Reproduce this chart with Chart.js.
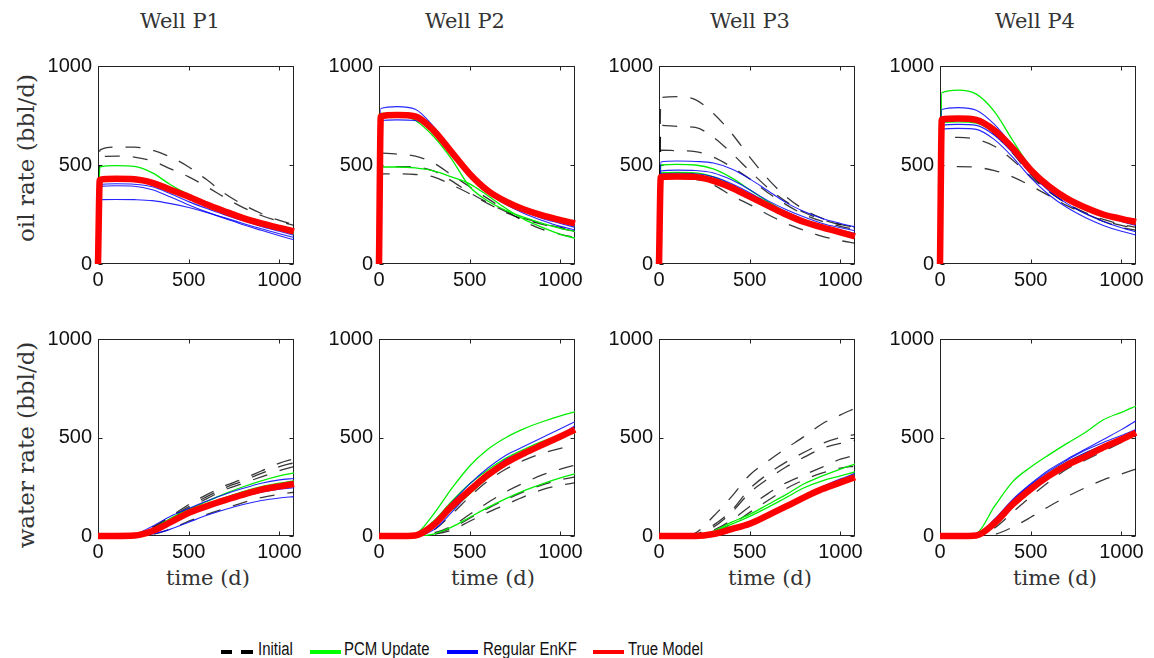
<!DOCTYPE html>
<html><head><meta charset="utf-8">
<script src="https://cdn.jsdelivr.net/npm/chart.js@4.4.0/dist/chart.umd.min.js"></script>
<style>
html,body{margin:0;padding:0;background:#fff;}
#wrap{position:relative;width:1154px;height:658px;overflow:hidden;background:#fff;}
canvas{position:absolute;}
.serif{position:absolute;font-family:'DejaVu Serif',serif;color:#333;white-space:nowrap;line-height:1;}
.title{font-size:21px;transform:translateX(-50%);}
.ylab{font-size:23px;transform:translate(-50%,-50%) rotate(-90deg);}
.xlab{font-size:21px;transform:translateX(-50%);}
.lg{position:absolute;font-family:'Liberation Sans',Arial,sans-serif;font-size:18px;line-height:1;color:#111;transform:scaleX(0.83);transform-origin:left top;white-space:nowrap;top:640px;}
.sw{position:absolute;height:4px;top:650px;}
</style></head><body><div id="wrap"></div>
<script>
// ---------- data ----------
const wellNames = ['Well P1', 'Well P2', 'Well P3', 'Well P4'];
const xTicks = [0, 500, 1000];
const yTicks = [0, 500, 1000];
const timeOil = [0, 10, 100, 200, 300, 400, 500, 600, 700, 800, 900, 1000, 1080];
const timeWater = [0, 100, 200, 300, 400, 500, 600, 700, 800, 900, 1000, 1080];

// Well P1 oil rate
const p1OilTrue = [0,425,430,428,410,375,340,300,265,232,205,182,165];
const p1OilPCM = [[0,490,497,493,460,400,350,305,265,230,200,175,150],[0,428,432,430,412,377,342,302,266,233,205,180,160]];
const p1OilEnKF = [[0,400,405,403,390,355,315,280,248,218,190,165,145],[0,392,395,393,375,338,298,262,230,198,170,143,122],[0,325,326,325,320,305,285,260,233,205,178,153,134]];
const p1OilInitial = [[0,575,590,590,575,540,490,425,355,300,255,220,200],[0,540,545,540,520,480,440,390,335,285,245,215,195],[0,430,435,432,415,380,345,305,268,236,208,185,170]];
// Well P2 oil rate
const p2OilTrue = [0,745,752,745,675,565,455,370,315,275,245,222,205];
const p2OilPCM = [[0,760,755,725,645,530,390,318,270,235,205,180,165],[0,490,490,485,470,440,405,345,280,225,185,150,130],[0,750,755,748,688,580,468,383,325,280,245,215,190]];
const p2OilEnKF = [[0,785,795,782,695,580,455,370,310,265,230,205,185],[0,725,728,725,668,560,448,360,300,255,220,190,172],[0,740,745,740,680,572,458,375,315,270,238,212,195]];
const p2OilInitial = [[0,560,555,545,510,450,390,330,270,215,175,150,135],[0,490,492,490,470,420,360,310,265,230,205,185,170],[0,455,455,452,440,400,355,305,260,225,200,180,165]];
// Well P3 oil rate
const p3OilTrue = [0,440,442,440,420,385,340,295,250,212,185,160,140];
const p3OilPCM = [[0,500,503,500,480,435,375,315,262,220,190,165,148],[0,460,462,460,440,400,350,302,255,215,188,163,145]];
const p3OilEnKF = [[0,515,520,518,510,480,430,370,310,265,230,205,188],[0,470,474,472,460,425,375,320,275,237,205,183,168],[0,455,458,456,440,405,360,310,265,225,195,172,155]];
const p3OilInitial = [[0,840,845,830,760,660,540,430,340,275,230,200,185],[0,700,695,690,640,560,470,385,315,260,225,198,182],[0,575,572,568,540,490,430,360,300,250,215,190,175],[0,430,432,428,400,345,300,250,205,170,140,118,105]];
// Well P4 oil rate
const p4OilTrue = [0,730,735,728,675,585,475,392,330,285,250,228,212];
const p4OilPCM = [[0,865,878,858,770,625,488,398,335,290,255,230,215],[0,715,718,712,662,575,470,387,325,280,245,220,205]];
const p4OilEnKF = [[0,780,790,777,705,595,480,395,335,285,245,215,195],[0,680,685,680,628,540,435,350,285,235,195,165,147],[0,700,705,700,650,562,455,370,305,255,215,183,163]];
const p4OilInitial = [[0,640,640,630,595,525,440,365,305,255,215,185,170],[0,490,492,488,472,440,395,345,295,255,220,195,180],[0,720,722,715,655,560,450,368,305,260,225,200,185]];

// Well P1 water rate
const p1WaterTrue = [0,0,2,25,70,118,152,182,210,235,252,264];
const p1WaterPCM = [[0,0,3,35,90,135,175,215,250,280,305,320],[0,0,2,28,75,122,160,195,225,250,268,280]];
const p1WaterEnKF = [[0,0,8,50,100,140,178,212,242,268,285,292],[0,0,0,10,35,70,105,135,160,180,193,200],[0,0,3,25,65,110,145,175,200,222,238,245],[0,0,4,30,78,125,160,190,218,243,260,270]];
const p1WaterInitial = [[0,0,5,45,100,160,210,255,290,330,370,392],[0,0,4,40,95,150,200,245,280,318,352,372],[0,0,3,35,88,142,190,235,268,300,332,352],[0,0,0,8,35,75,110,140,170,195,212,222]];
// Well P2 water rate
const p2WaterTrue = [0,0,3,55,150,232,310,372,420,463,505,540];
const p2WaterPCM = [[0,0,10,110,240,355,440,500,545,580,610,630],[0,0,0,10,45,95,145,190,230,265,295,315],[0,0,6,75,175,265,335,395,440,480,512,530],[0,0,2,45,130,215,295,365,415,460,500,525]];
const p2WaterEnKF = [[0,0,5,70,170,265,345,410,455,500,545,580],[0,0,3,50,145,240,320,390,430,470,515,560],[0,0,1,30,120,220,305,380,425,465,505,545]];
const p2WaterInitial = [[0,0,2,30,110,200,280,340,385,420,445,460],[0,0,0,15,50,110,170,225,270,310,340,360],[0,0,0,10,40,90,140,185,225,260,285,300],[0,0,0,8,30,75,120,160,200,235,258,270]];
// Well P3 water rate
const p3WaterTrue = [0,0,0,10,35,62,105,150,196,238,272,298];
const p3WaterPCM = [[0,0,2,25,70,110,160,210,265,305,340,365],[0,0,1,20,60,100,145,195,245,280,305,325],[0,0,0,12,40,70,115,160,205,248,285,312]];
const p3WaterEnKF = [[0,0,0,12,38,68,112,158,205,250,290,318],[0,0,0,11,36,65,108,154,200,244,282,310]];
const p3WaterInitial = [[0,0,15,100,200,310,380,445,505,570,615,648],[0,0,8,55,130,240,315,375,425,470,500,515],[0,0,6,45,120,220,290,350,400,445,470,485],[0,0,4,30,80,150,215,270,310,350,390,410],[0,0,2,20,60,120,180,240,285,320,345,355]];
// Well P4 water rate
const p4WaterTrue = [0,0,3,65,160,238,305,360,403,450,490,525];
const p4WaterPCM = [[0,0,12,150,275,350,412,470,525,590,628,660],[0,0,5,75,175,255,320,375,420,460,495,520]];
const p4WaterEnKF = [[0,0,6,85,185,265,335,390,440,490,540,585],[0,0,5,80,180,260,328,385,435,475,510,540],[0,0,4,72,170,250,318,375,422,462,500,532]];
const p4WaterInitial = [[0,0,0,8,45,95,150,200,245,285,315,340],[0,0,2,40,120,200,275,340,385,430,475,510]];

// ---------- layout ----------
const wrap = document.getElementById('wrap');
const plotLefts = [98, 379, 659, 940];
const plotW = 196;
const rows = [
  {top: 66, h: 198, time: timeOil, label: 'oil rate (bbl/d)', labelY: 158,
   sets: [[p1OilTrue,p1OilPCM,p1OilEnKF,p1OilInitial],[p2OilTrue,p2OilPCM,p2OilEnKF,p2OilInitial],[p3OilTrue,p3OilPCM,p3OilEnKF,p3OilInitial],[p4OilTrue,p4OilPCM,p4OilEnKF,p4OilInitial]]},
  {top: 339, h: 197, time: timeWater, label: 'water rate (bbl/d)', labelY: 445,
   sets: [[p1WaterTrue,p1WaterPCM,p1WaterEnKF,p1WaterInitial],[p2WaterTrue,p2WaterPCM,p2WaterEnKF,p2WaterInitial],[p3WaterTrue,p3WaterPCM,p3WaterEnKF,p3WaterInitial],[p4WaterTrue,p4WaterPCM,p4WaterEnKF,p4WaterInitial]]}
];
const PADL = 70, PADT = 15, PADR = 30, PADB = 35;

const framePlugin = {
  id: 'frame',
  beforeDatasetsDraw(chart) {
    const {ctx, chartArea: a, scales} = chart;
    const L = Math.round(a.left) + 0.5, T = Math.round(a.top) + 0.5, R = Math.round(a.right) - 0.5, B = Math.round(a.bottom) - 0.5;
    ctx.save();
    ctx.strokeStyle = '#222';
    ctx.lineWidth = 1;
    ctx.strokeRect(L, T, R - L, B - T);
    ctx.beginPath();
    xTicks.forEach(v => {
      const px = Math.round(scales.x.getPixelForValue(v)) + 0.5;
      ctx.moveTo(px, B); ctx.lineTo(px, B - 4);
      ctx.moveTo(px, T); ctx.lineTo(px, T + 4);
    });
    yTicks.forEach(v => {
      const py = Math.round(scales.y.getPixelForValue(v)) + 0.5;
      ctx.moveTo(L, py); ctx.lineTo(L + 4, py);
      ctx.moveTo(R, py); ctx.lineTo(R - 4, py);
    });
    ctx.stroke();
    ctx.restore();
  }
};

function pts(time, vals) { return time.map((t, i) => ({x: t, y: vals[i]})); }

function makePanel(row, col) {
  const r = rows[row];
  const [truth, pcm, enkf, init] = r.sets[col];
  const cv = document.createElement('canvas');
  const W = PADL + plotW + PADR, H = PADT + r.h + PADB;
  cv.width = W; cv.height = H;
  cv.style.left = (plotLefts[col] - PADL) + 'px';
  cv.style.top = (r.top - PADT) + 'px';
  cv.style.width = W + 'px'; cv.style.height = H + 'px';
  wrap.appendChild(cv);
  const datasets = [];
  datasets.push({data: pts(r.time, truth), borderColor: '#ff0000', borderWidth: 6.5, order: 0, clip: 6});
  enkf.forEach(s => datasets.push({data: pts(r.time, s), borderColor: 'rgba(0,0,255,0.85)', borderWidth: 1.1, order: 1}));
  pcm.forEach(s => datasets.push({data: pts(r.time, s), borderColor: '#00ee00', borderWidth: 1.3, order: 2}));
  init.forEach(s => datasets.push({data: pts(r.time, s), borderColor: 'rgba(0,0,0,0.78)', borderWidth: 1.3, borderDash: [15, 13], order: 3}));
  const tickFont = {family: "'Liberation Sans', Arial, sans-serif", size: 20};
  const fmt = v => String(v);
  new Chart(cv, {
    type: 'line',
    data: {datasets},
    options: {
      responsive: false, animation: false, devicePixelRatio: 1,
      layout: {padding: {left: 0, top: PADT, right: PADR, bottom: 0}},
      plugins: {legend: {display: false}, tooltip: {enabled: false}, title: {display: false}},
      elements: {point: {radius: 0}, line: {cubicInterpolationMode: 'monotone', fill: false}},
      scales: {
        x: {type: 'linear', min: 0, max: 1080,
            afterBuildTicks: s => { s.ticks = xTicks.map(v => ({value: v})); },
            afterFit: s => { s.height = PADB; s.paddingLeft = 0; s.paddingRight = 0; },
            grid: {display: false, drawTicks: false}, border: {display: false},
            ticks: {font: tickFont, color: '#111', padding: 4, maxRotation: 0, autoSkip: false, callback: fmt}},
        y: {type: 'linear', min: 0, max: 1000,
            afterBuildTicks: s => { s.ticks = yTicks.map(v => ({value: v})); },
            afterFit: s => { s.width = PADL; s.paddingTop = 0; s.paddingBottom = 0; },
            grid: {display: false, drawTicks: false}, border: {display: false},
            ticks: {font: tickFont, color: '#111', padding: 6, autoSkip: false, callback: fmt}}
      }
    },
    plugins: [framePlugin]
  });
}

function addText(cls, txt, x, y) {
  const d = document.createElement('div');
  d.className = 'serif ' + cls;
  d.textContent = txt;
  d.style.left = x + 'px'; d.style.top = y + 'px';
  wrap.appendChild(d);
}

const titleX = [180, 465, 750, 1035];
const xlabX = [208, 493, 770, 1055];
wellNames.forEach((n, i) => addText('title', n, titleX[i], 11));
rows.forEach(r => addText('ylab', r.label, 26, r.labelY));
xlabX.forEach(x => addText('xlab', 'time (d)', x, 568));
for (let row = 0; row < 2; row++) for (let col = 0; col < 4; col++) makePanel(row, col);

// legend
const legendItems = [
  {label: 'Initial', color: '#000', dashed: true, sx: 221, tx: 258},
  {label: 'PCM Update', color: '#00ff00', sx: 310, tx: 344},
  {label: 'Regular EnKF', color: '#0000ff', sx: 447, tx: 483},
  {label: 'True Model', color: '#ff0000', sx: 593, tx: 628}
];
legendItems.forEach(it => {
  if (it.dashed) {
    [[0, 11], [20, 12]].forEach(([o, w]) => {
      const s = document.createElement('div'); s.className = 'sw';
      s.style.left = (it.sx + o) + 'px'; s.style.width = w + 'px'; s.style.background = it.color;
      wrap.appendChild(s);
    });
  } else {
    const s = document.createElement('div'); s.className = 'sw';
    s.style.left = it.sx + 'px'; s.style.width = '31px'; s.style.background = it.color;
    wrap.appendChild(s);
  }
  const t = document.createElement('div'); t.className = 'lg';
  t.textContent = it.label; t.style.left = it.tx + 'px';
  wrap.appendChild(t);
});
</script></body></html>
